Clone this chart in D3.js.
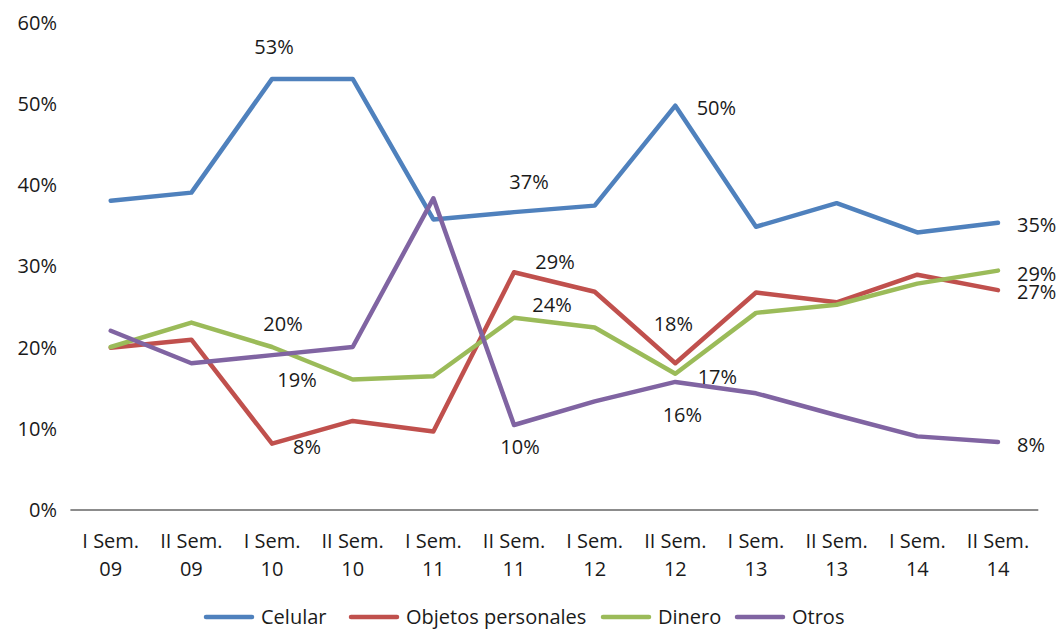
<!DOCTYPE html>
<html>
<head>
<meta charset="utf-8">
<script src="https://cdn.jsdelivr.net/npm/d3@7"></script>
<style>
  body { margin: 0; background: #fff; }
  svg text { font-family: "Open Sans", "Noto Sans", sans-serif; fill: #1a1a1a; }
  .line { fill: none; stroke-width: 4.5; stroke-linejoin: round; stroke-linecap: round; }
</style>
</head>
<body>
<div id="chart"></div>
<script>
// periods (two-line tick labels)
var periods = ["I Sem.|09", "II Sem.|09", "I Sem.|10", "II Sem.|10", "I Sem.|11", "II Sem.|11",
               "I Sem.|12", "II Sem.|12", "I Sem.|13", "II Sem.|13", "I Sem.|14", "II Sem.|14"];

var seriesNames = ["Celular", "Objetos personales", "Dinero", "Otros"];

// values in %
var celular  = [38.0, 39.0, 53.0, 53.0, 35.7, 36.6, 37.4, 49.7, 34.8, 37.7, 34.1, 35.3];
var objetos  = [19.9, 20.9, 8.1, 10.9, 9.6, 29.2, 26.8, 18.0, 26.7, 25.5, 28.9, 27.0];
var dinero   = [20.0, 23.0, 20.0, 16.0, 16.4, 23.6, 22.4, 16.7, 24.2, 25.2, 27.8, 29.4];
var otros    = [22.0, 18.0, 19.0, 20.0, 38.3, 10.4, 13.3, 15.7, 14.3, 11.6, 9.0, 8.3];

var yTicks = [0, 10, 20, 30, 40, 50, 60];

var seriesValues = [celular, objetos, dinero, otros];
var colors = ["#4F81BD", "#C0504D", "#9BBB59", "#8064A2"];

// which points get a value label (series index, point index, offset)
var labelSpecs = [
  {s: 0, i: 2, dx: 2, dy: -32}, {s: 0, i: 5, dx: 15, dy: -30}, {s: 0, i: 7, dx: 41, dy: 2}, {s: 0, i: 11, dx: 19, dy: 2, a: "start"},
  {s: 1, i: 2, dx: 35, dy: 3}, {s: 1, i: 5, dx: 41, dy: -10}, {s: 1, i: 7, dx: -2, dy: -39}, {s: 1, i: 11, dx: 19, dy: 2, a: "start"},
  {s: 2, i: 2, dx: 11, dy: -23}, {s: 2, i: 5, dx: 38, dy: -13}, {s: 2, i: 7, dx: 42, dy: 3}, {s: 2, i: 11, dx: 19, dy: 3, a: "start"},
  {s: 3, i: 2, dx: 25, dy: 25}, {s: 3, i: 5, dx: 6, dy: 22}, {s: 3, i: 7, dx: 7, dy: 33}, {s: 3, i: 11, dx: 19, dy: 3, a: "start"}
];

var width = 1062, height = 632;

var svg = d3.select("#chart").append("svg")
  .attr("width", width)
  .attr("height", height);

var x = d3.scalePoint()
  .domain(d3.range(periods.length))
  .range([70.4, 1038.3])
  .padding(0.5);

var y = d3.scaleLinear()
  .domain([0, 60])
  .range([509.5, 22]);

// Y tick labels (no axis line)
var yAxis = d3.axisLeft(y).tickValues(yTicks).tickSize(0).tickPadding(0)
  .tickFormat(function(d){ return d + "%"; });
var gy = svg.append("g").attr("transform", "translate(57,0)").call(yAxis);
gy.select(".domain").remove();
gy.selectAll("text").attr("font-size", 20).attr("fill", "#1a1a1a").attr("dy", "0.35em")
  .style("font-family", "'Open Sans', sans-serif");

// X axis
var xAxis = d3.axisBottom(x).tickSize(0).tickFormat(function(){ return ""; });
var gx = svg.append("g").attr("transform", "translate(0," + y(0) + ")").call(xAxis);
gx.select(".domain").attr("stroke", "#8c8c8c").attr("stroke-width", 1.8).attr("d", "M70.4,0.5H1038.3");

var xl = svg.append("g");
periods.forEach(function(p, i){
  var parts = p.split("|");
  var t = xl.append("text")
    .attr("x", x(i))
    .attr("text-anchor", "middle")
    .attr("font-size", 20);
  t.append("tspan").attr("x", x(i)).attr("y", 548).text(parts[0]);
  t.append("tspan").attr("x", x(i)).attr("y", 576).text(parts[1]);
});

// lines
var line = d3.line()
  .x(function(d, i){ return x(i); })
  .y(function(d){ return y(d); });

seriesValues.forEach(function(vals, k){
  svg.append("path")
    .datum(vals)
    .attr("class", "line")
    .attr("stroke", colors[k])
    .attr("d", line);
});

// value labels
svg.append("g").selectAll("text")
  .data(labelSpecs)
  .enter().append("text")
  .attr("x", function(d){ return x(d.i) + d.dx; })
  .attr("y", function(d){ return y(seriesValues[d.s][d.i]) + d.dy; })
  .attr("dy", "0.35em")
  .attr("text-anchor", function(d){ return d.a || "middle"; })
  .attr("font-size", 20)
  .text(function(d){ return Math.round(seriesValues[d.s][d.i]) + "%"; });

// legend
var legendX = [206, 351, 603, 737];
var lg = svg.append("g");
seriesNames.forEach(function(name, k){
  lg.append("line")
    .attr("x1", legendX[k]).attr("x2", legendX[k] + 46)
    .attr("y1", 617).attr("y2", 617)
    .attr("stroke", colors[k])
    .attr("stroke-width", 4.5)
    .attr("stroke-linecap", "round");
  lg.append("text")
    .attr("x", legendX[k] + 55)
    .attr("y", 617)
    .attr("dy", "0.35em")
    .attr("font-size", 20)
    .text(name);
});
</script>
</body>
</html>
